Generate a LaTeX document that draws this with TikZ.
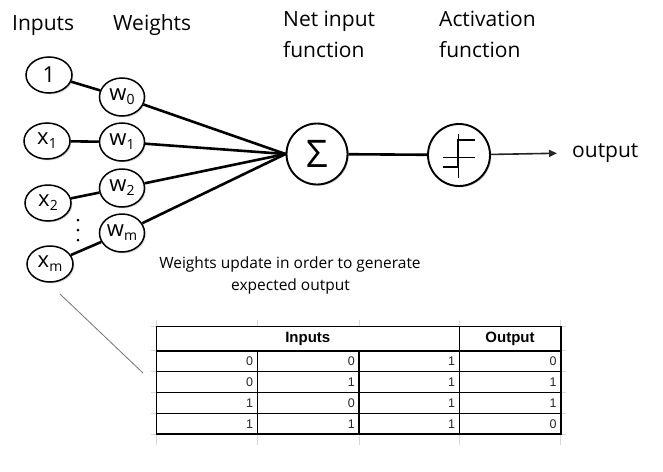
\documentclass[tikz,border=0pt]{standalone}
\usepackage{fontspec}
\setmainfont{Open Sans}
\newfontfamily\tabfont{Liberation Sans}
\usetikzlibrary{shapes.geometric,shadows,arrows.meta}
\newcommand\subs[1]{\raisebox{-4pt}{\fontsize{14}{14}\selectfont #1}}
\begin{document}
\begin{tikzpicture}[x=1pt,y=-1pt,
  shad/.style={drop shadow={shadow xshift=1.3pt,shadow yshift=-1.3pt,fill=black!35,opacity=0.5}},
  inp/.style={ellipse,draw,line width=1.5pt,fill=white,minimum width=46pt,minimum height=36pt,inner sep=0pt,font=\fontsize{22}{22}\selectfont,shad},
  wt/.style={inp,minimum width=45pt,minimum height=38pt},
  bigc/.style={circle,draw,line width=1.9pt,fill=white,minimum size=61pt,inner sep=0pt,shad},
  conn/.style={line width=2.6pt},
  head/.style={font=\fontsize{21}{21}\selectfont,inner sep=0pt,anchor=base west},
  note/.style={font=\fontsize{15.5}{15.5}\selectfont,inner sep=0pt,anchor=base},
  grid/.style={black!15,line width=0.8pt},
  tline/.style={black,line width=1.6pt},
  thd/.style={font=\tabfont\bfseries\fontsize{15}{15}\selectfont,inner sep=0pt},
  tnum/.style={font=\tabfont\fontsize{12.5}{12.5}\selectfont,inner sep=0pt,anchor=east,text=black!85}
]
\useasboundingbox (0,0) rectangle (663,471);
\fill[white] (0,0) rectangle (663,471);

% headings
\node[head] (hin) at (12,30) {Inputs};
\node[head] (hwt) at (113,30) {Weights};
\node[head] (hnet1) at (283,27) {Net input};
\node[head] (hnet2) at (283,57) {function};
\node[head] (hact1) at (439,27) {Activation};
\node[head] (hact2) at (439,57) {function};

% input nodes
\node[inp] (in0) at (49,75) {1};
\node[inp] (in1) at (47,141) {x\subs{1}};
\node[inp] (in2) at (48,203) {x\subs{2}};
\node[inp] (inm) at (50,264) {x\subs{m}};

% weight nodes
\node[wt] (w0) at (122,97) {w\subs{0}};
\node[wt] (w1) at (122,142) {w\subs{1}};
\node[wt] (w2) at (122,188) {w\subs{2}};
\node[wt] (wm) at (122,233) {w\subs{m}};

% vertical dots
\fill (78,220) circle (1.5);
\fill (78,230) circle (1.5);
\fill (78,240) circle (1.5);

% sum and activation
\node[bigc] (sig) at (317,154) {\fontsize{38}{38}\selectfont Σ};
\node[bigc,minimum size=62pt] (act) at (459,155) {};
\draw[line width=0.9pt] ([shift={(-1,-21)}]act.center) -- ([shift={(-1,23)}]act.center);
\draw[line width=0.9pt] ([shift={(-16,2)}]act.center) -- ([shift={(16,2)}]act.center);
\draw[line width=1.8pt] ([shift={(-16,12)}]act.center) -- ([shift={(-1,12)}]act.center)
  -- ([shift={(-1,-15)}]act.center) -- ([shift={(16,-15)}]act.center);

\node[head,anchor=west] (out) at (572,153) {output};

% connectors
\draw[conn] (in0) -- (w0);
\draw[conn] (in1) -- (w1);
\draw[conn] (in2) -- (w2);
\draw[conn] (inm) -- (wm);
\draw[conn] (w0) -- (sig.west);
\draw[conn] (w1) -- (sig.west);
\draw[conn] (w2) -- (sig.west);
\draw[conn] (wm) -- (sig.west);
\draw[conn] (sig) -- (act);
\draw[line width=1.6pt,black!85,-{Triangle[length=8pt,width=7pt]},shorten >=15pt] (act) -- (out.west);

% note
\node[note] (n1) at (290,268) {Weights update in order to generate};
\node[note] (n2) at (290.5,290) {expected output};

% diagonal line
\coordinate (dA) at (60,294);
\coordinate (dB) at (143,373);
\draw[black!55,line width=0.8pt] (dA) -- (dB);

% table grid (spreadsheet)
\foreach \x in {156.3,257.3,359,459.3,560.7} {
  \draw[grid] (\x,320) -- (\x,326.3);
  \draw[grid] (\x,434) -- (\x,445);
}
\foreach \y in {326.3,350.7,371.3,392.3,413.3,434} {
  \draw[grid] (150.7,\y) -- (156.3,\y);
  \draw[grid] (560.7,\y) -- (566,\y);
}
% table borders
\draw[tline] (156.3,326.3) rectangle (560.7,434);
\foreach \y in {350.7,371.3,392.3,413.3} \draw[tline] (156.3,\y) -- (560.7,\y);
\draw[tline] (459.3,326.3) -- (459.3,434);
\draw[tline] (257.3,350.7) -- (257.3,434);
\draw[tline] (359,350.7) -- (359,434);

\node[thd] (tin) at (307.8,338.5) {Inputs};
\node[thd] (tout) at (510,338.5) {Output};

% rows
\node[tnum] (r1a) at (253.3,361) {0};
\node[tnum] (r1b) at (355,361) {0};
\node[tnum] (r1c) at (455.3,361) {1};
\node[tnum] (r1d) at (556.7,361) {0};
\node[tnum] (r2a) at (253.3,381.8) {0};
\node[tnum] (r2b) at (355,381.8) {1};
\node[tnum] (r2c) at (455.3,381.8) {1};
\node[tnum] (r2d) at (556.7,381.8) {1};
\node[tnum] (r3a) at (253.3,402.8) {1};
\node[tnum] (r3b) at (355,402.8) {0};
\node[tnum] (r3c) at (455.3,402.8) {1};
\node[tnum] (r3d) at (556.7,402.8) {1};
\node[tnum] (r4a) at (253.3,423.7) {1};
\node[tnum] (r4b) at (355,423.7) {1};
\node[tnum] (r4c) at (455.3,423.7) {1};
\node[tnum] (r4d) at (556.7,423.7) {0};
\end{tikzpicture}
\end{document}
